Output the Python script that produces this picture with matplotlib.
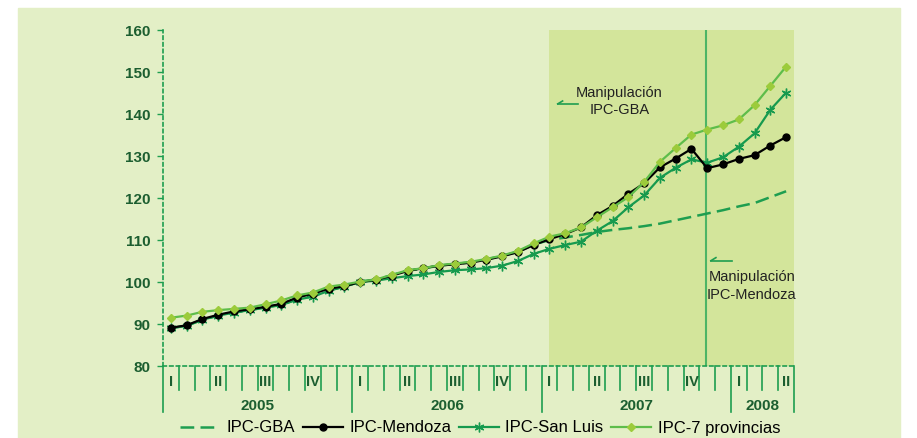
import numpy as np
import matplotlib
matplotlib.use("Agg")
import matplotlib.pyplot as plt
from matplotlib.lines import Line2D
from matplotlib.patches import Rectangle
from matplotlib.transforms import blended_transform_factory

# monthly series, Jan 2005 .. Apr 2008
years = ["2005", "2006", "2007", "2008"]
months_per_year = [12, 12, 12, 4]
quarters = ["I", "II", "III", "IV"]

ipc_gba = [89.0, 89.6, 91.0, 92.0, 92.7, 93.3, 94.0, 94.6, 95.9, 96.6, 98.0, 98.9,
           100.1, 100.6, 101.6, 102.7, 103.2, 103.9, 104.3, 104.7, 105.4, 106.2, 107.2, 108.9,
           110.0, 110.6, 111.2, 111.9, 112.4, 112.8, 113.3, 113.9, 114.7, 115.5, 116.3, 117.1,
           118.0, 118.8, 120.2, 121.6]
ipc_mendoza = [89.1, 89.7, 91.2, 92.2, 93.0, 93.5, 94.1, 94.8, 96.3, 97.2, 98.4, 99.0,
               100.0, 100.5, 101.5, 102.6, 103.3, 103.9, 104.2, 104.6, 105.3, 106.1, 107.1, 108.8,
               110.2, 111.4, 113.0, 115.9, 118.1, 121.0, 123.5, 127.3, 129.4, 131.7, 127.1, 128.0,
               129.3, 130.2, 132.5, 134.5]
ipc_san_luis = [89.0, 89.6, 91.0, 92.0, 92.7, 93.3, 93.9, 94.5, 95.8, 96.5, 97.9, 98.9,
                100.0, 100.3, 100.9, 101.4, 101.8, 102.4, 102.8, 103.0, 103.3, 103.9, 105.0, 106.7,
                107.9, 108.8, 109.6, 112.2, 114.5, 117.8, 120.6, 124.8, 127.2, 129.2, 128.4, 129.7,
                132.2, 135.4, 141.0, 145.1]
ipc_7_prov = [91.5, 92.0, 92.9, 93.3, 93.6, 93.9, 94.7, 95.6, 96.8, 97.5, 98.9, 99.4,
              100.1, 100.6, 101.7, 102.8, 103.3, 104.0, 104.4, 104.8, 105.5, 106.3, 107.4, 109.2,
              110.8, 111.6, 113.0, 115.4, 117.8, 120.2, 123.8, 128.6, 131.9, 135.1, 136.3, 137.3,
              138.7, 142.1, 146.7, 151.3]

bg = "#E3EFC6"
shade = "#D3E59B"
axis_green = "#1E9E50"
label_green = "#1C5E30"
sl_green = "#169A4E"
prov_line = "#5EBD4A"
prov_marker = "#9CCB3B"
gba_dash = (5.5, 2.5)

plt.rcParams["font.family"] = ["Liberation Sans Narrow", "Liberation Sans", "DejaVu Sans"]

fig = plt.figure(figsize=(9.17, 4.38), dpi=100)
fig.patches.append(Rectangle((18 / 917, 0), (900 - 18) / 917, 1 - 8 / 438,
                             transform=fig.transFigure, color=bg, zorder=-10))
ax = fig.add_axes([163 / 917, 1 - 366 / 438, (794 - 163) / 917, (366 - 30) / 438])
ax.set_facecolor("none")

n = len(ipc_gba)
x = np.arange(n) + 0.5

ax.axvspan(24.5, n, color=shade, zorder=0, lw=0)
ax.axvline(34.4, color="#4DB565", lw=1.5, zorder=1)

ax.plot(x, ipc_gba, color=axis_green, lw=1.8, dashes=gba_dash, zorder=2)
ax.plot(x, ipc_san_luis, color=sl_green, lw=1.6, marker=(6, 2, 0), ms=7, mew=1.0, zorder=3)
ax.plot(x, ipc_mendoza, color="black", lw=1.6, marker="o", ms=5, zorder=4)
ax.plot(x, ipc_7_prov, color=prov_line, lw=1.6, marker="D", ms=4,
        mfc=prov_marker, mec=prov_marker, zorder=5)

ax.set_xlim(0, n)
ax.set_ylim(80, 160)
ax.set_yticks(np.arange(80, 161, 10))
ax.set_xticks([])
ax.tick_params(axis="y", direction="out", length=4, width=1, color=axis_green,
               labelcolor=label_green, labelsize=11, pad=5)
for lab in ax.get_yticklabels():
    lab.set_fontweight("bold")

for side in ["top", "right"]:
    ax.spines[side].set_visible(False)
for side in ["left", "bottom"]:
    ax.spines[side].set_color(axis_green)
    ax.spines[side].set_linestyle((0, (2, 2)))
    ax.spines[side].set_linewidth(1.2)

# month / year separators under the axis
trans = blended_transform_factory(ax.transData, ax.transAxes)
year_edges = np.concatenate([[0], np.cumsum(months_per_year)])
for k in range(n + 1):
    bottom = -0.137 if k in year_edges else -0.071
    ax.add_line(Line2D([k, k], [0, bottom], transform=trans, color=axis_green,
                       lw=1.2, clip_on=False))

for start, count, year in zip(year_edges[:-1], months_per_year, years):
    for q in range(4):
        m = start + 3 * q
        if m < start + count:
            ax.text(m + 0.5, -0.048, quarters[q], transform=trans, ha="center", va="center",
                    fontsize=10.5, fontweight="bold", color=label_green)
    ax.text(start + count / 2, -0.118, year, transform=trans, ha="center", va="center",
            fontsize=11, fontweight="bold", color=label_green)

# annotations
ax.text(28.92, 142.9, "Manipulación\nIPC-GBA", ha="center", va="center",
        fontsize=10.5, color="#222222", linespacing=1.3, zorder=6)
ax.plot([25.02, 26.29], [142.4, 142.4], color=axis_green, lw=1.2, zorder=6)
ax.plot([25.02, 25.33], [142.4, 143.1], color=axis_green, lw=1.2, zorder=6)

ax.text(37.33, 99.05, "Manipulación\nIPC-Mendoza", ha="center", va="center",
        fontsize=10.5, color="#222222", linespacing=1.3, zorder=6)
ax.plot([34.73, 36.04], [105.07, 105.07], color=axis_green, lw=1.2, zorder=6)
ax.plot([34.73, 35.05], [105.07, 105.8], color=axis_green, lw=1.2, zorder=6)

handles = [
    Line2D([], [], color=axis_green, lw=1.8, dashes=gba_dash),
    Line2D([], [], color="black", lw=1.6, marker="o", ms=5),
    Line2D([], [], color=sl_green, lw=1.6, marker=(6, 2, 0), ms=7),
    Line2D([], [], color=prov_line, lw=1.6, marker="D", ms=4, mfc=prov_marker, mec=prov_marker),
]
labels = ["IPC-GBA", "IPC-Mendoza", "IPC-San Luis", "IPC-7 provincias"]
fig.legend(handles, labels, loc="center", bbox_to_anchor=(480 / 917, 10 / 438), ncol=4,
           frameon=False, fontsize=12, handlelength=2.4, columnspacing=0.45,
           handletextpad=0.4, borderpad=0)

fig.savefig("out.png", dpi=100, facecolor="white")
